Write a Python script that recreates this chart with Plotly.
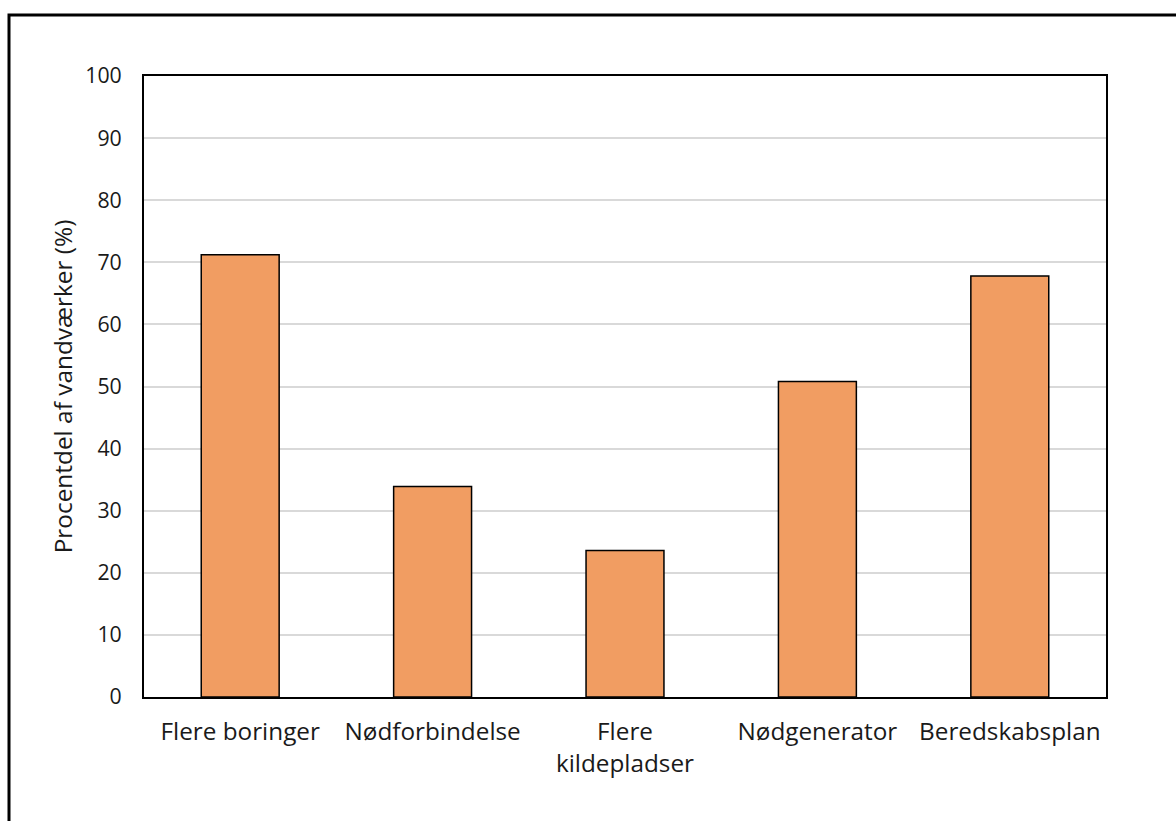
import plotly.graph_objects as go

categories = ["Flere boringer", "Nødforbindelse", "Flere<br>kildepladser", "Nødgenerator", "Beredskabsplan"]
values = [71.2, 33.9, 23.6, 50.8, 67.8]
y_ticks = [0, 10, 20, 30, 40, 50, 60, 70, 80, 90, 100]

W, H = 1176, 821
L, R, T, B = 144, 1106, 76, 697

fig = go.Figure()
fig.add_trace(go.Bar(
    x=categories, y=values,
    marker=dict(color="#F19D62", line=dict(color="black", width=1.5)),
    width=0.405,
))

pw, ph = R - L, B - T
fig.add_shape(type="rect", xref="paper", yref="paper",
              x0=(9 - L) / pw, x1=(1300 - L) / pw,
              y0=(B - 900) / ph, y1=(B - 15) / ph,
              line=dict(color="black", width=3), fillcolor="rgba(0,0,0,0)", layer="above")

fig.update_layout(
    width=W, height=H,
    margin=dict(l=L, r=W - R, t=T, b=H - B),
    paper_bgcolor="white", plot_bgcolor="white",
    font=dict(family="Open Sans, sans-serif", size=24, color="#1a1a1a"),
    showlegend=False,
    xaxis=dict(showline=True, linecolor="black", linewidth=2, mirror=True,
               ticks="outside", ticklen=12, tickcolor="rgba(0,0,0,0)",
               tickfont=dict(size=24.3), showgrid=False),
    yaxis=dict(range=[0, 100], tickvals=y_ticks, showline=True, linecolor="black",
               linewidth=2, mirror=True, showgrid=True, gridcolor="#d9d9d9", gridwidth=1.5,
               ticks="outside", ticklen=16, tickcolor="rgba(0,0,0,0)", tickfont=dict(size=21.3),
               title=dict(text="Procentdel af vandværker (%)", font=dict(size=24.4), standoff=6),
               zeroline=False),
)
fig.write_html("out.html")
